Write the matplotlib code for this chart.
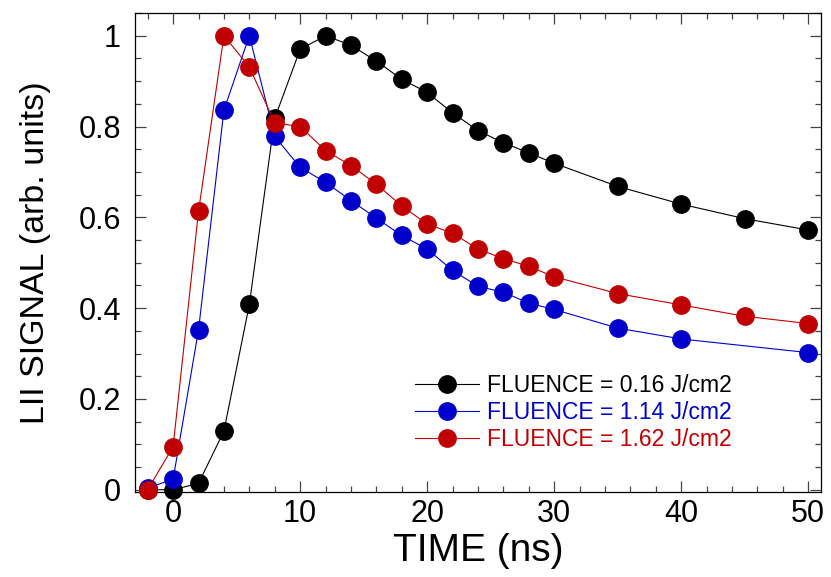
import matplotlib
matplotlib.use("Agg")
import matplotlib.pyplot as plt
from matplotlib.ticker import MultipleLocator, FuncFormatter

plt.rcParams['font.family'] = ['Liberation Sans', 'DejaVu Sans']

# time points (ns)
t_all = [-2, 0, 2, 4, 6, 8, 10, 12, 14, 16, 18, 20, 22, 24, 26, 28, 30, 35, 40, 45, 50]
t_blue = [-2, 0, 2, 4, 6, 8, 10, 12, 14, 16, 18, 20, 22, 24, 26, 28, 30, 35, 40, 50]

# normalised LII signal
sig_016 = [0.0, 0.0, 0.014, 0.129, 0.408, 0.818, 0.970, 1.0, 0.979, 0.944, 0.904, 0.875,
           0.830, 0.791, 0.764, 0.742, 0.719, 0.668, 0.629, 0.597, 0.572]
sig_114 = [0.004, 0.023, 0.352, 0.836, 1.0, 0.778, 0.710, 0.677, 0.637, 0.598, 0.560, 0.530,
           0.483, 0.448, 0.435, 0.411, 0.397, 0.356, 0.332, 0.302]
sig_162 = [0.0, 0.095, 0.613, 1.0, 0.931, 0.808, 0.800, 0.747, 0.714, 0.673, 0.625, 0.585,
           0.565, 0.530, 0.509, 0.492, 0.469, 0.432, 0.407, 0.382, 0.366]

labels = ["FLUENCE = 0.16 J/cm2", "FLUENCE = 1.14 J/cm2", "FLUENCE = 1.62 J/cm2"]
colors = ["#000000", "#0000cc", "#c00000"]

fig = plt.figure(figsize=(8.31, 5.77), dpi=100)
ax = fig.add_axes([135 / 831, 1 - 492 / 577, 686 / 831, 479 / 577])

series = [(t_all, sig_016), (t_blue, sig_114), (t_all, sig_162)]
for (t, s), lab, c in zip(series, labels, colors):
    ax.plot(t, s, "-o", color=c, lw=0.8, ms=12.5, mec=c, mfc=c, label=lab, clip_on=False, zorder=3)

ax.set_xlim(-3, 51)
ax.set_ylim(-0.005, 1.05)
ax.xaxis.set_major_locator(MultipleLocator(10))
ax.xaxis.set_minor_locator(MultipleLocator(2))
ax.yaxis.set_major_locator(MultipleLocator(0.2))
ax.yaxis.set_minor_locator(MultipleLocator(0.05))
ax.yaxis.set_major_formatter(FuncFormatter(lambda v, p: f"{v:g}"))
ax.tick_params(which="both", direction="in", top=True, right=True, width=0.9, color="#444444")
ax.tick_params(which="major", length=8, labelsize=22, pad=5)
ax.tick_params(which="minor", length=4.5)
ax.tick_params(axis="y", which="major", pad=10)
for sp in ax.spines.values():
    sp.set_linewidth(0.9)

ax.set_xlabel("TIME (ns)", fontsize=28, labelpad=3)
ax.set_ylabel("LII SIGNAL (arb. units)", fontsize=24.5, labelpad=20)

leg = ax.legend(loc="upper left", bbox_to_anchor=(410 / 831, 1 - 369.5 / 577), bbox_transform=fig.transFigure,
                frameon=False, fontsize=16.5, handlelength=2.8, handletextpad=0.35, labelspacing=0.18,
                borderpad=0.2, borderaxespad=0)
for txt, c in zip(leg.get_texts(), colors):
    txt.set_color(c)

fig.savefig("out.png", dpi=100)
